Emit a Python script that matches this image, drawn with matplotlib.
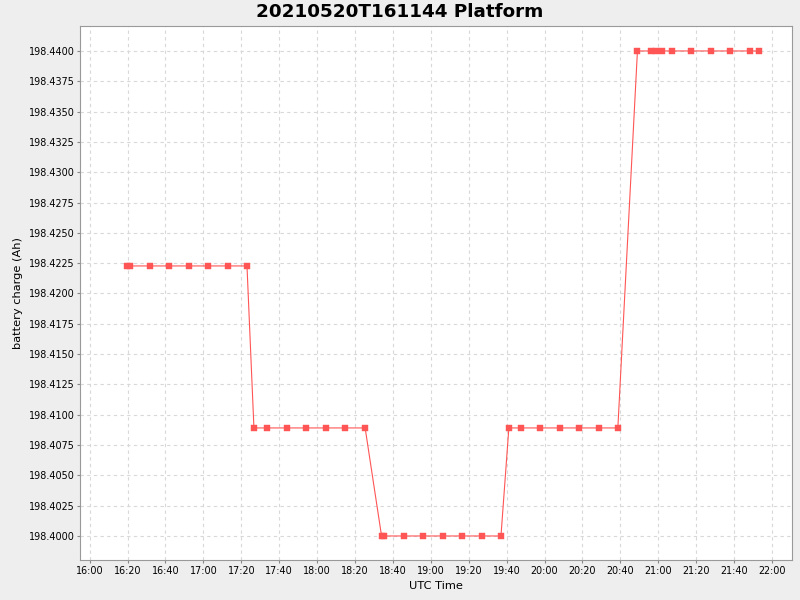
import numpy as np
import pandas as pd
import matplotlib
matplotlib.use("Agg")
import matplotlib.pyplot as plt
import matplotlib.dates as mdates
from matplotlib.ticker import MultipleLocator, FormatStrFormatter

day = "2021-05-20 "
times = [
    "16:19:50", "16:21:20", "16:31:50", "16:41:50", "16:52:25", "17:02:25", "17:12:55", "17:23:00",
    "17:26:40", "17:33:30", "17:44:05", "17:54:05", "18:04:40", "18:14:40", "18:25:20",
    "18:34:00", "18:35:30", "18:45:50", "18:55:55", "19:06:25", "19:16:35", "19:27:00", "19:37:00",
    "19:41:10", "19:47:35", "19:57:35", "20:08:05", "20:18:10", "20:28:40", "20:38:40",
    "20:49:00", "20:56:25", "20:59:00", "21:02:00", "21:07:20", "21:17:20", "21:27:50",
    "21:37:50", "21:48:25", "21:53:05",
]
charge = (
    [198.42227] * 8
    + [198.40891] * 7
    + [198.40000] * 8
    + [198.40891] * 7
    + [198.44000] * 10
)

t = pd.to_datetime([day + s for s in times])

fig = plt.figure(figsize=(8, 6), dpi=100)
fig.patch.set_facecolor("#eeeeee")
ax = fig.add_axes([0.1, 0.0667, 0.8906, 0.89])
ax.set_facecolor("white")

ax.plot(t, charge, color="#ff5555", lw=0.8, marker="s", ms=5.0, mew=0.3, mec="#ff5555")

ax.set_xlim(pd.Timestamp(day + "15:54:54"), pd.Timestamp(day + "22:10:48"))
ax.set_ylim(198.39802, 198.44206)

ax.xaxis.set_major_locator(mdates.MinuteLocator(byminute=[0, 20, 40]))
ax.xaxis.set_major_formatter(mdates.DateFormatter("%H:%M"))
ax.yaxis.set_major_locator(MultipleLocator(0.0025))
ax.yaxis.set_major_formatter(FormatStrFormatter("%.4f"))

ax.grid(True, color="#d8d8d8", ls=(0, (3, 3)), lw=0.8)
for s in ax.spines.values():
    s.set_color("#999999")
ax.tick_params(colors="#888888", labelcolor="black", labelsize=6.9, length=2.5, width=0.8)
ax.tick_params(axis="y", pad=1.5)
ax.tick_params(axis="x", pad=2)

ax.set_xlabel("UTC Time", fontsize=8.2)
ax.set_ylabel("battery charge (Ah)", fontsize=8.2)
ax.xaxis.set_label_coords(0.5, -0.0393)
ax.yaxis.set_label_coords(-0.080, 0.5)
fig.text(0.5, 0.98, "20210520T161144 Platform", fontsize=13.2, fontweight="bold",
         ha="center", va="center")

fig.savefig("out.png", dpi=100, facecolor=fig.get_facecolor())
